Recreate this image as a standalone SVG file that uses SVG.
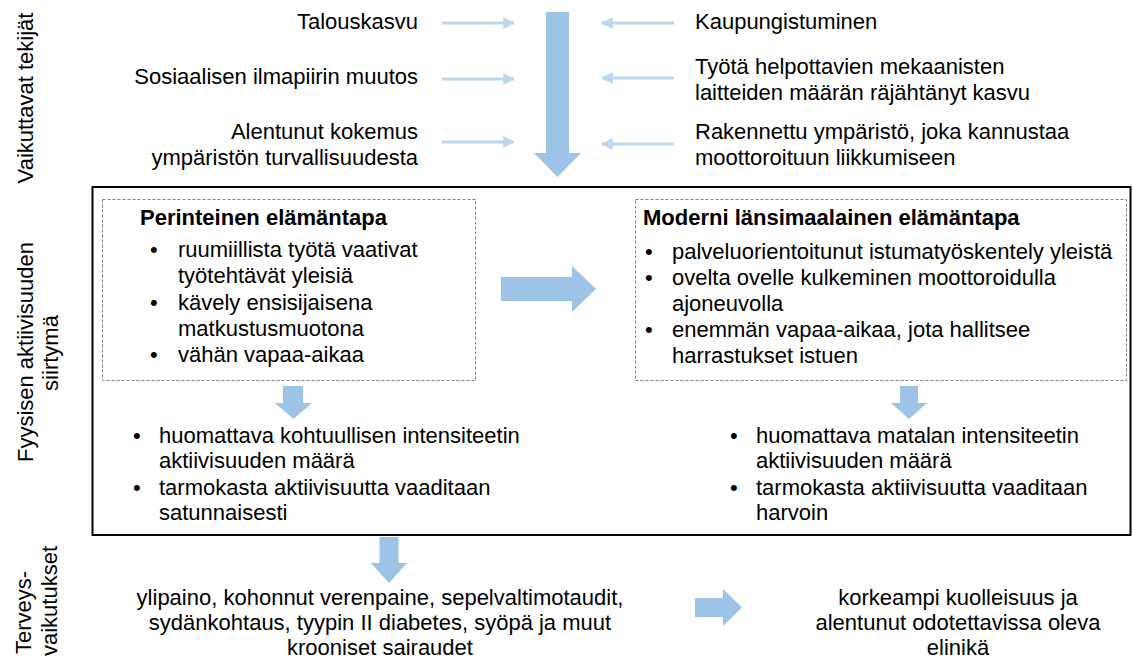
<svg xmlns="http://www.w3.org/2000/svg" width="1133" height="661" viewBox="0 0 1133 661">
  <style>
    text { font-family: "Liberation Sans", Arial, sans-serif; font-size: 22px; fill: #000; }
    .b { font-weight: bold; }
    .r { text-anchor: end; }
    .m { text-anchor: middle; }
    .thin { stroke: #BDD7EE; stroke-width: 3; fill: none; }
    .blk { fill: #9DC3E6; }
    .dash { fill: none; stroke: #7F7F7F; stroke-width: 1; stroke-dasharray: 3 2; }
  </style>
  <defs>
    <marker id="ah" viewBox="0 0 10 10" refX="9" refY="5" markerWidth="4" markerHeight="4" orient="auto" markerUnits="strokeWidth">
      <path d="M0,0 L10,5 L0,10 z" fill="#BDD7EE"/>
    </marker>
  </defs>
  <rect width="1133" height="661" fill="#fff"/>

  <!-- row labels, rotated -->
  <g id="label-tekijat">
    <text class="m" transform="translate(33,98) rotate(-90)">Vaikuttavat tekijät</text>
  </g>
  <g id="label-siirtyma">
    <text class="m" transform="translate(33,352) rotate(-90)">Fyysisen aktiivisuuden</text>
    <text class="m" transform="translate(58,353) rotate(-90)">siirtymä</text>
  </g>
  <g id="label-terveys">
    <text transform="translate(31,654) rotate(-90)">Terveys-</text>
    <text transform="translate(57,656) rotate(-90)">vaikutukset</text>
  </g>

  <!-- influencing factors -->
  <g id="factors-left">
    <text class="r" x="418" y="29">Talouskasvu</text>
    <text class="r" x="418" y="84">Sosiaalisen ilmapiirin muutos</text>
    <text class="r" x="418" y="139">Alentunut kokemus</text>
    <text class="r" x="418" y="165">ympäristön turvallisuudesta</text>
  </g>
  <g id="factors-right">
    <text x="695" y="29">Kaupungistuminen</text>
    <text x="695" y="74">Työtä helpottavien mekaanisten</text>
    <text x="695" y="100">laitteiden määrän räjähtänyt kasvu</text>
    <text x="695" y="139">Rakennettu ympäristö, joka kannustaa</text>
    <text x="695" y="165">moottoroituun liikkumiseen</text>
  </g>

  <!-- transition frame -->
  <g id="frame">
    <rect x="92.5" y="187" width="1038" height="348" fill="none" stroke="#000" stroke-width="2"/>
  </g>

  <g id="traditional">
    <rect class="dash" x="102.5" y="199.5" width="373" height="181"/>
    <text class="b" x="140" y="225">Perinteinen elämäntapa</text>
    <text x="150" y="257">•</text><text x="178" y="257">ruumiillista työtä vaativat</text>
    <text x="178" y="283">työtehtävät yleisiä</text>
    <text x="150" y="310">•</text><text x="178" y="310">kävely ensisijaisena</text>
    <text x="178" y="336">matkustusmuotona</text>
    <text x="150" y="362">•</text><text x="178" y="362">vähän vapaa-aikaa</text>
  </g>

  <g id="modern">
    <rect class="dash" x="635.5" y="199.5" width="491" height="181"/>
    <text class="b" x="643" y="225">Moderni länsimaalainen elämäntapa</text>
    <text x="645" y="259">•</text><text x="672" y="259">palveluorientoitunut istumatyöskentely yleistä</text>
    <text x="645" y="285">•</text><text x="672" y="285">ovelta ovelle kulkeminen moottoroidulla</text>
    <text x="672" y="311">ajoneuvolla</text>
    <text x="645" y="337">•</text><text x="672" y="337">enemmän vapaa-aikaa, jota hallitsee</text>
    <text x="672" y="363">harrastukset istuen</text>
  </g>

  <g id="activity-traditional">
    <text x="133" y="443">•</text><text x="159" y="443">huomattava kohtuullisen intensiteetin</text>
    <text x="159" y="468">aktiivisuuden määrä</text>
    <text x="133" y="495">•</text><text x="159" y="495">tarmokasta aktiivisuutta vaaditaan</text>
    <text x="159" y="520">satunnaisesti</text>
  </g>

  <g id="activity-modern">
    <text x="730" y="443">•</text><text x="756" y="443">huomattava matalan intensiteetin</text>
    <text x="756" y="468">aktiivisuuden määrä</text>
    <text x="730" y="495">•</text><text x="756" y="495">tarmokasta aktiivisuutta vaaditaan</text>
    <text x="756" y="520">harvoin</text>
  </g>

  <!-- health effects -->
  <g id="diseases">
    <text class="m" x="380" y="605">ylipaino, kohonnut verenpaine, sepelvaltimotaudit,</text>
    <text class="m" x="380" y="630">sydänkohtaus, tyypin II diabetes, syöpä ja muut</text>
    <text class="m" x="380" y="655">krooniset sairaudet</text>
  </g>
  <g id="mortality">
    <text class="m" x="958" y="605">korkeampi kuolleisuus ja</text>
    <text class="m" x="958" y="630">alentunut odotettavissa oleva</text>
    <text class="m" x="958" y="655">elinikä</text>
  </g>

  <!-- connectors -->
  <g id="connectors">
    <line class="thin" x1="442" y1="23" x2="514" y2="23" marker-end="url(#ah)"/>
    <line class="thin" x1="442" y1="79" x2="514" y2="79" marker-end="url(#ah)"/>
    <line class="thin" x1="442" y1="142" x2="514" y2="142" marker-end="url(#ah)"/>
    <line class="thin" x1="674" y1="23" x2="602" y2="23" marker-end="url(#ah)"/>
    <line class="thin" x1="674" y1="78" x2="602" y2="78" marker-end="url(#ah)"/>
    <line class="thin" x1="674" y1="144" x2="602" y2="144" marker-end="url(#ah)"/>

    <polygon class="blk" points="546,12 569,12 569,153 581,153 557.5,177 534,153 546,153"/>
    <polygon class="blk" points="501,277 572,277 572,266 596,289 572,312 572,301 501,301"/>
    <polygon class="blk" points="283,386 303,386 303,403 312,403 293.5,419 275,403 283,403"/>
    <polygon class="blk" points="900,386 918,386 918,403 927,403 909,419 891,403 900,403"/>
    <polygon class="blk" points="379.5,537 398.5,537 398.5,563 407,563 389,583 371,563 379.5,563"/>
    <polygon class="blk" points="695,598 723,598 723,589 742,607.5 723,626 723,617 695,617"/>
  </g>
</svg>
